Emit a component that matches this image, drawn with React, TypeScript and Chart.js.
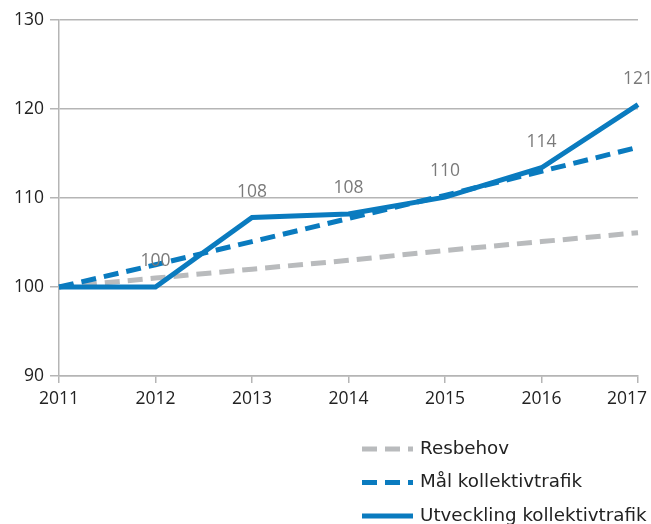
import React, { useEffect, useRef } from "react";
import { Chart, registerables } from "chart.js";

Chart.register(...registerables);

const years = ["2011", "2012", "2013", "2014", "2015", "2016", "2017"];
const resbehov = [100, 101.0, 102.0, 103.0, 104.1, 105.1, 106.1];
const malKollektivtrafik = [100, 102.5, 105.1, 107.7, 110.3, 113.0, 115.7];
const utvecklingKollektivtrafik = [100, 100, 107.8, 108.2, 110.1, 113.4, 120.5];
const utvecklingLabels = ["", "100", "108", "108", "110", "114", "121"];
const yTicks = [90, 100, 110, 120, 130];

const BLUE = "#0a7bbf";
const GRAY = "#b9bbbd";
const FONT = "'Open Sans', sans-serif";
const LEGEND_FONT = "'DejaVu Sans', sans-serif";

const dataLabelPlugin = {
  id: "dataLabels",
  afterDatasetsDraw(chart: any) {
    const meta = chart.getDatasetMeta(2);
    const ctx = chart.ctx;
    ctx.save();
    ctx.font = `17.5px ${FONT}`;
    ctx.fillStyle = "#7a7a7a";
    ctx.textAlign = "center";
    ctx.textBaseline = "middle";
    meta.data.forEach((pt: any, i: number) => {
      const t = utvecklingLabels[i];
      if (t) ctx.fillText(t, pt.x, pt.y - 26);
    });
    ctx.restore();
  },
};

const lastLabelPlugin = {
  id: "lastLabelFit",
  beforeDraw(chart: any) {
    const scale = chart.scales.x;
    const items = scale.getLabelItems();
    const last = items[items.length - 1];
    if (last && last.options && last.options.translation) {
      last.options.textAlign = "right";
      last.options.translation = [chart.width - 4, last.options.translation[1]];
    }
  },
};

const legendPlugin = {
  id: "customLegend",
  afterDraw(chart: any) {
    const ctx = chart.ctx;
    const ds = chart.data.datasets;
    const ys = [449, 482.5, 516];
    ctx.save();
    ds.forEach((d: any, i: number) => {
      const y = ys[i];
      ctx.beginPath();
      ctx.lineWidth = 5;
      ctx.strokeStyle = d.borderColor;
      ctx.setLineDash(d.borderDash || []);
      ctx.moveTo(362, y);
      ctx.lineTo(413, y);
      ctx.stroke();
      ctx.setLineDash([]);
      ctx.font = `18.3px ${LEGEND_FONT}`;
      ctx.fillStyle = "#222";
      ctx.textAlign = "left";
      ctx.textBaseline = "middle";
      ctx.fillText(d.label, 420, y);
    });
    ctx.restore();
  },
};

export default function App() {
  const ref = useRef<HTMLCanvasElement>(null);
  useEffect(() => {
    document.body.style.margin = "0";
    const chart = new Chart(ref.current!, {
      type: "line",
      data: {
        labels: years,
        datasets: [
          {
            label: "Resbehov",
            data: resbehov,
            borderColor: GRAY,
            borderWidth: 5,
            borderDash: [15, 8],
            pointRadius: 0,
            order: 2,
          },
          {
            label: "Mål kollektivtrafik",
            data: malKollektivtrafik,
            borderColor: BLUE,
            borderWidth: 5,
            borderDash: [15, 8],
            pointRadius: 0,
            order: 1,
          },
          {
            label: "Utveckling kollektivtrafik",
            data: utvecklingKollektivtrafik,
            borderColor: BLUE,
            borderWidth: 5,
            pointRadius: 0,
            order: 0,
          },
        ],
      },
      options: {
        animation: false,
        responsive: false,
        maintainAspectRatio: false,
        layout: { padding: { top: 20, right: 13, bottom: 108, left: 0 } },
        plugins: { legend: { display: false }, tooltip: { enabled: false } },
        scales: {
          x: {
            offset: false,
            afterFit: (s: any) => {
              s.height = 40;
              s.paddingRight = 0;
              s.paddingLeft = 0;
            },
            grid: {
              drawOnChartArea: false,
              drawTicks: true,
              tickLength: 7,
              color: "#b5b5b5",
              lineWidth: 1.5,
            },
            border: { display: true, color: "#b5b5b5", width: 1.5 },
            ticks: {
              color: "#222",
              font: { family: FONT, size: 17.5 },
              padding: 6,
              maxRotation: 0,
            },
          },
          y: {
            min: 90,
            max: 130,
            afterFit: (s: any) => {
              s.width = 59;
            },
            afterBuildTicks: (s: any) => {
              s.ticks = yTicks.map((v) => ({ value: v }));
            },
            grid: {
              color: "#b5b5b5",
              lineWidth: 1.5,
              drawTicks: true,
              tickLength: 9,
            },
            border: { display: true, color: "#b5b5b5", width: 1.5 },
            ticks: {
              color: "#222",
              font: { family: FONT, size: 17.5 },
              padding: 6,
            },
          },
        },
      },
      plugins: [dataLabelPlugin, lastLabelPlugin, legendPlugin],
    });
    return () => chart.destroy();
  }, []);
  return (
    <div style={{ width: 651, height: 524 }}>
      <canvas ref={ref} width={651} height={524} style={{ display: "block" }} />
    </div>
  );
}
